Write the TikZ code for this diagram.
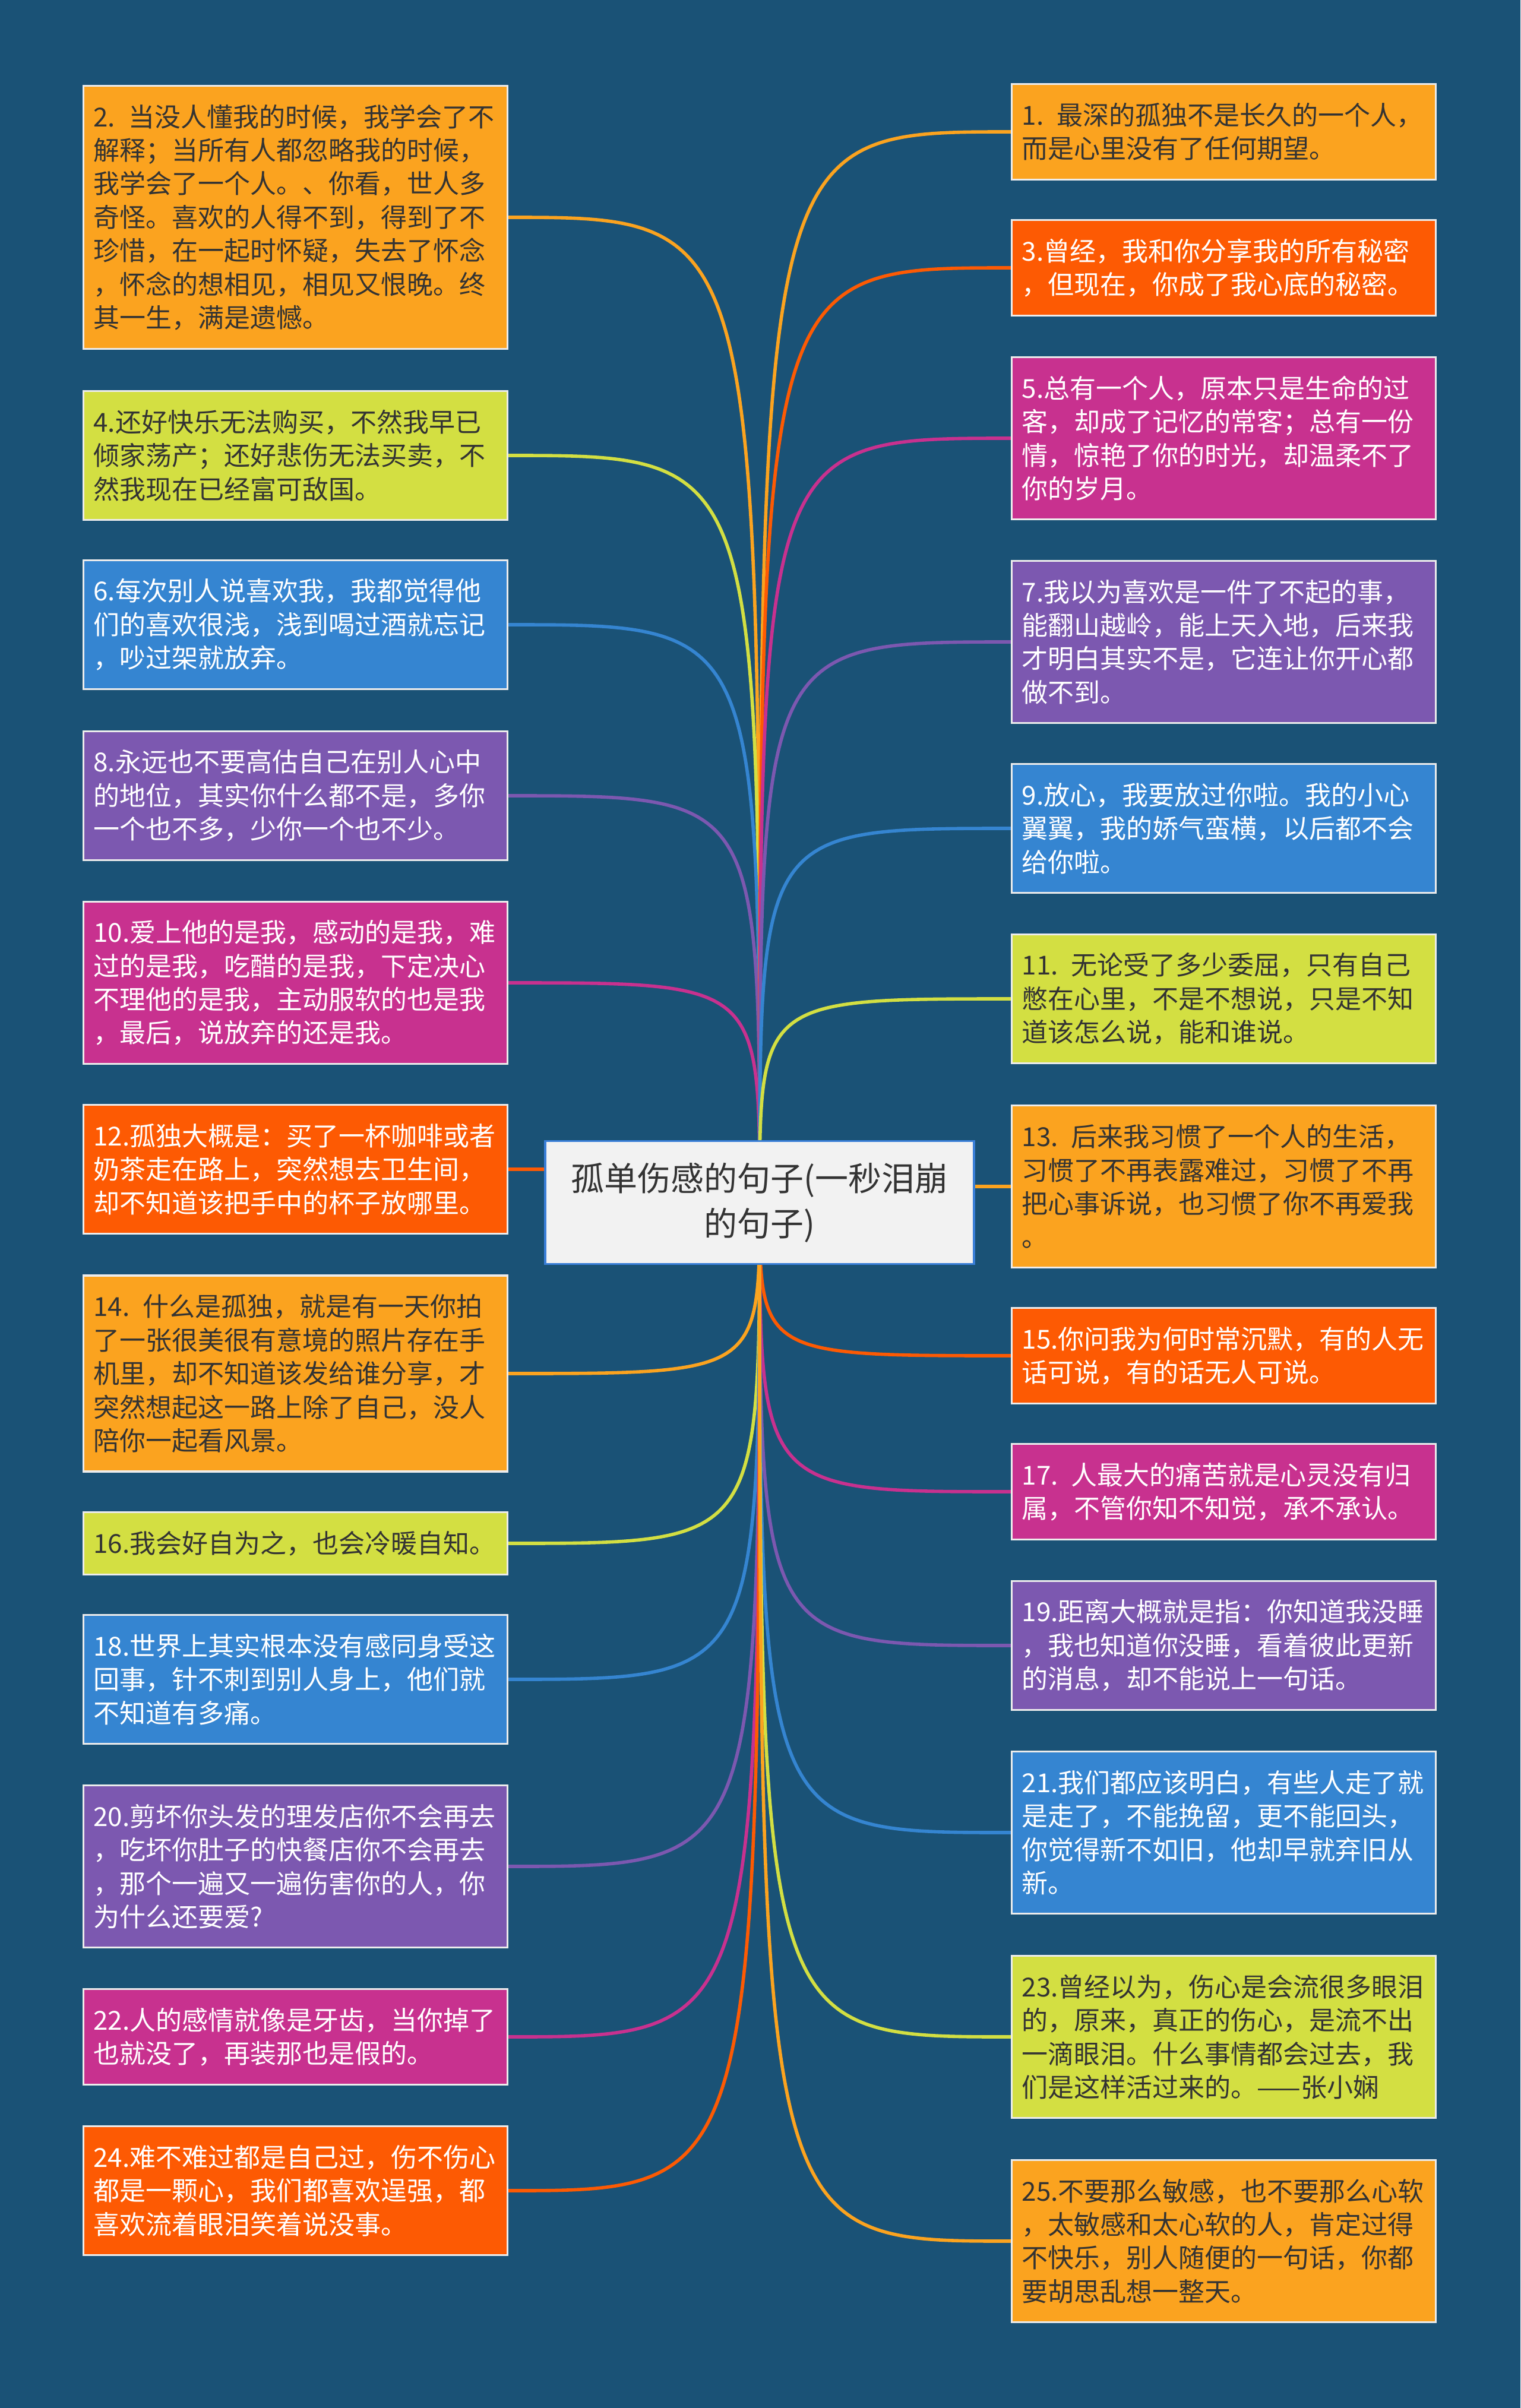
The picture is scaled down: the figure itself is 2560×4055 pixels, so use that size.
\documentclass[tikz,border=0pt]{standalone}
\usepackage{fontspec}
\setmainfont{Noto Sans CJK SC}
\usetikzlibrary{backgrounds}
\setlength{\parindent}{0pt}
\definecolor{bgblue}{HTML}{1A5276}
\definecolor{amber}{HTML}{FBA31F}
\definecolor{flame}{HTML}{FD5A03}
\definecolor{lime}{HTML}{D3DF42}
\definecolor{berry}{HTML}{C8318F}
\definecolor{grape}{HTML}{7C58B0}
\definecolor{sky}{HTML}{3585D1}
\definecolor{ink}{HTML}{333333}
\definecolor{rim}{HTML}{3A7FD8}
\tikzset{
  leaf/.style={draw=white!85!gray, line width=0.8pt, fill=#1, text width=170pt,
    inner xsep=4.25pt, inner ysep=0pt, align=left,
    font=\fontsize{11pt}{14.1pt}\selectfont},
  dark/.style={text=ink},
  light/.style={text=white},
  rows/.style={minimum height=12pt+14.1pt*#1},
  hub/.style={draw=rim, line width=0.8pt, fill=white!95!black, text=ink,
    minimum width=180.5pt, minimum height=51.75pt, align=center,
    font=\fontsize{14pt}{19pt}\selectfont},
  twig/.style={draw=#1, line width=1.4pt},
}

\begin{document}
\begin{tikzpicture}[x=0.25pt, y=-0.25pt]
  % centre
  \node[hub] (hub) at (1279,2025) {孤单伤感的句子(一秒泪崩\\的句子)};

  % left column
  \node[leaf=amber, dark, rows=7, anchor=east] (L2) at (856,366) {2. 当没人懂我的时候，我学会了不\\解释；当所有人都忽略我的时候，\\我学会了一个人。、你看，世人多\\奇怪。喜欢的人得不到，得到了不\\珍惜，在一起时怀疑，失去了怀念\\，怀念的想相见，相见又恨晚。终\\其一生，满是遗憾。};
  \node[leaf=lime, dark, rows=3, anchor=east] (L4) at (856,767) {4.还好快乐无法购买，不然我早已\\倾家荡产；还好悲伤无法买卖，不\\然我现在已经富可敌国。};
  \node[leaf=sky, light, rows=3, anchor=east] (L6) at (856,1052) {6.每次别人说喜欢我，我都觉得他\\们的喜欢很浅，浅到喝过酒就忘记\\，吵过架就放弃。};
  \node[leaf=grape, light, rows=3, anchor=east] (L8) at (856,1340) {8.永远也不要高估自己在别人心中\\的地位，其实你什么都不是，多你\\一个也不多，少你一个也不少。};
  \node[leaf=berry, light, rows=4, anchor=east] (L10) at (856,1655) {10.爱上他的是我，感动的是我，难\\过的是我，吃醋的是我，下定决心\\不理他的是我，主动服软的也是我\\，最后，说放弃的还是我。};
  \node[leaf=flame, light, rows=3, anchor=east] (L12) at (856,1969) {12.孤独大概是：买了一杯咖啡或者\\奶茶走在路上，突然想去卫生间，\\却不知道该把手中的杯子放哪里。};
  \node[leaf=amber, dark, rows=5, anchor=east] (L14) at (856,2313) {14. 什么是孤独，就是有一天你拍\\了一张很美很有意境的照片存在手\\机里，却不知道该发给谁分享，才\\突然想起这一路上除了自己，没人\\陪你一起看风景。};
  \node[leaf=lime, dark, rows=1, anchor=east] (L16) at (856,2599) {16.我会好自为之，也会冷暖自知。};
  \node[leaf=sky, light, rows=3, anchor=east] (L18) at (856,2828) {18.世界上其实根本没有感同身受这\\回事，针不刺到别人身上，他们就\\不知道有多痛。};
  \node[leaf=grape, light, rows=4, anchor=east] (L20) at (856,3143) {20.剪坏你头发的理发店你不会再去\\，吃坏你肚子的快餐店你不会再去\\，那个一遍又一遍伤害你的人，你\\为什么还要爱?};
  \node[leaf=berry, light, rows=2, anchor=east] (L22) at (856,3430) {22.人的感情就像是牙齿，当你掉了\\也就没了，再装那也是假的。};
  \node[leaf=flame, light, rows=3, anchor=east] (L24) at (856,3689) {24.难不难过都是自己过，伤不伤心\\都是一颗心，我们都喜欢逞强，都\\喜欢流着眼泪笑着说没事。};

  % right column
  \node[leaf=amber, dark, rows=2, anchor=west] (R1) at (1702,222) {1. 最深的孤独不是长久的一个人，\\而是心里没有了任何期望。};
  \node[leaf=flame, light, rows=2, anchor=west] (R3) at (1702,451) {3.曾经，我和你分享我的所有秘密\\，但现在，你成了我心底的秘密。};
  \node[leaf=berry, light, rows=4, anchor=west] (R5) at (1702,738) {5.总有一个人，原本只是生命的过\\客，却成了记忆的常客；总有一份\\情，惊艳了你的时光，却温柔不了\\你的岁月。};
  \node[leaf=grape, light, rows=4, anchor=west] (R7) at (1702,1081) {7.我以为喜欢是一件了不起的事，\\能翻山越岭，能上天入地，后来我\\才明白其实不是，它连让你开心都\\做不到。};
  \node[leaf=sky, light, rows=3, anchor=west] (R9) at (1702,1395) {9.放心，我要放过你啦。我的小心\\翼翼，我的娇气蛮横，以后都不会\\给你啦。};
  \node[leaf=lime, dark, rows=3, anchor=west] (R11) at (1702,1682) {11. 无论受了多少委屈，只有自己\\憋在心里，不是不想说，只是不知\\道该怎么说，能和谁说。};
  \node[leaf=amber, dark, rows=4, anchor=west] (R13) at (1702,1998) {13. 后来我习惯了一个人的生活，\\习惯了不再表露难过，习惯了不再\\把心事诉说，也习惯了你不再爱我\\。};
  \node[leaf=flame, light, rows=2, anchor=west] (R15) at (1702,2283) {15.你问我为何时常沉默，有的人无\\话可说，有的话无人可说。};
  \node[leaf=berry, light, rows=2, anchor=west] (R17) at (1702,2512) {17. 人最大的痛苦就是心灵没有归\\属，不管你知不知觉，承不承认。};
  \node[leaf=grape, light, rows=3, anchor=west] (R19) at (1702,2771) {19.距离大概就是指：你知道我没睡\\，我也知道你没睡，看着彼此更新\\的消息，却不能说上一句话。};
  \node[leaf=sky, light, rows=4, anchor=west] (R21) at (1702,3086) {21.我们都应该明白，有些人走了就\\是走了，不能挽留，更不能回头，\\你觉得新不如旧，他却早就弃旧从\\新。};
  \node[leaf=lime, dark, rows=4, anchor=west] (R23) at (1702,3430) {23.曾经以为，伤心是会流很多眼泪\\的，原来，真正的伤心，是流不出\\一滴眼泪。什么事情都会过去，我\\们是这样活过来的。——张小娴};
  \node[leaf=amber, dark, rows=4, anchor=west] (R25) at (1702,3774) {25.不要那么敏感，也不要那么心软\\，太敏感和太心软的人，肯定过得\\不快乐，别人随便的一句话，你都\\要胡思乱想一整天。};

  % background and branches
  \begin{scope}[on background layer]
    \fill[bgblue] (0,0) rectangle (2560,4055);
    \foreach \n/\a/\c in {L2/east/amber, L4/east/lime, L6/east/sky, L8/east/grape,
        L10/east/berry, L12/east/flame, L14/east/amber, L16/east/lime,
        L18/east/sky, L20/east/grape, L22/east/berry, L24/east/flame,
        R1/west/amber, R3/west/flame, R5/west/berry, R7/west/grape,
        R9/west/sky, R11/west/lime, R13/west/amber, R15/west/flame,
        R17/west/berry, R19/west/grape, R21/west/sky, R23/west/lime,
        R25/west/amber}
      \draw[twig=\c] (hub.center) .. controls (hub.center |- \n.\a) .. (\n.\a);
  \end{scope}
\end{tikzpicture}
\end{document}
